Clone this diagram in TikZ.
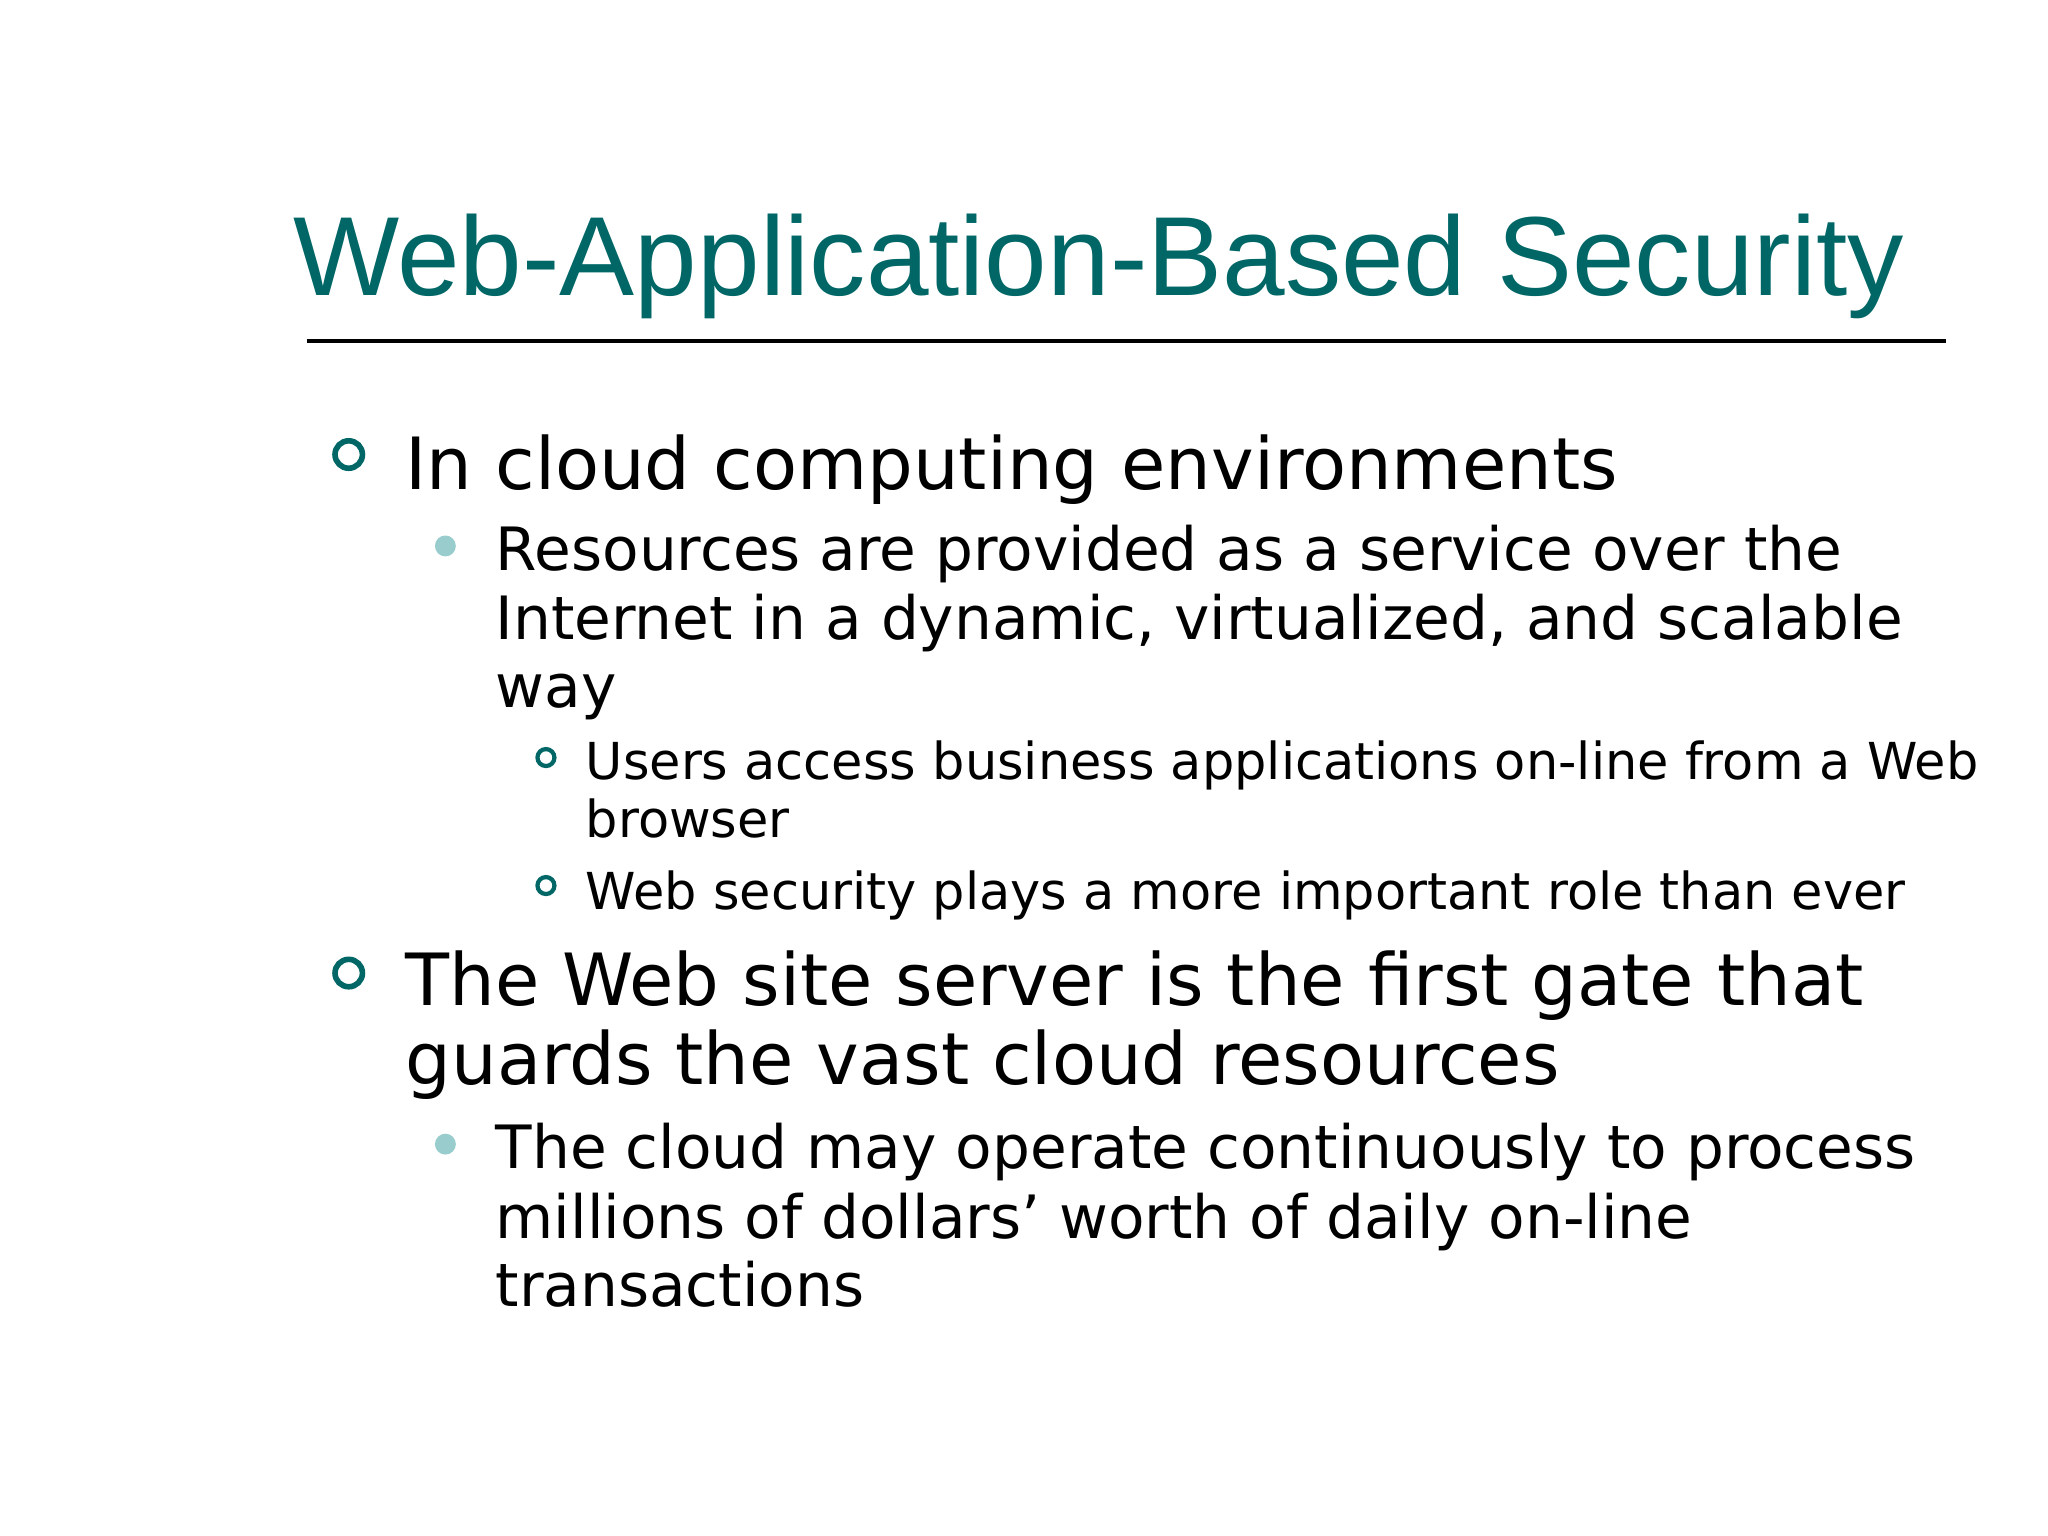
\documentclass[tikz,border=0pt]{standalone}
\usepackage{fontspec}
\setmainfont{DejaVu Sans}
\newfontfamily\titlefont{Liberation Sans}
\definecolor{teal1}{RGB}{0,102,102}
\definecolor{teal2}{RGB}{153,204,204}
\begin{document}
\begin{tikzpicture}[x=0.013061cm,y=-0.013061cm,
  la/.style={anchor=base west,inner sep=0pt,font=\fontsize{20.5}{24}\selectfont},
  lb/.style={anchor=base west,inner sep=0pt,font=\fontsize{17}{20}\selectfont},
  lc/.style={anchor=base west,inner sep=0pt,font=\fontsize{14.5}{17}\selectfont},
  ba/.style={draw=teal1,line width=1.6pt},
  bb/.style={fill=teal2},
  bc/.style={draw=teal1,line width=1.2pt}]
\useasboundingbox (0,0) rectangle (1568,1176);
\node[anchor=base west,inner sep=0pt,text=teal1,font=\titlefont\fontsize{32}{36}\selectfont] (title) at (224,226) {Web-Application-Based Security};
\coordinate (r1) at (235,261); \coordinate (r2) at (1490,261);
\draw[line width=1pt] (r1) -- (r2);
\draw[ba] (267,348) circle (10.5);
\node[la] (a1) at (310,375) {In cloud computing environments};
\fill[bb] (341,418) circle (8);
\node[lb] (b1) at (379,437) {Resources are provided as a service over the};
\node[lb] (b2) at (379,490) {Internet in a dynamic, virtualized, and scalable};
\node[lb] (b3) at (379,542) {way};
\draw[bc] (418,580) circle (6.5);
\node[lc] (c1) at (448,597) {Users access business applications on-line from a Web};
\node[lc] (c2) at (448,641) {browser};
\draw[bc] (418,678) circle (6.5);
\node[lc] (c3) at (448,696) {Web security plays a more important role than ever};
\draw[ba] (267,745) circle (10.5);
\node[la] (a2) at (310,770) {The Web site server is the first gate that};
\node[la] (a3) at (310,830) {guards the vast cloud resources};
\fill[bb] (341,876) circle (8);
\node[lb] (b4) at (379,895) {The cloud may operate continuously to process};
\node[lb] (b5) at (379,948) {millions of dollars’ worth of daily on-line};
\node[lb] (b6) at (379,1000) {transactions};
\end{tikzpicture}
\end{document}
